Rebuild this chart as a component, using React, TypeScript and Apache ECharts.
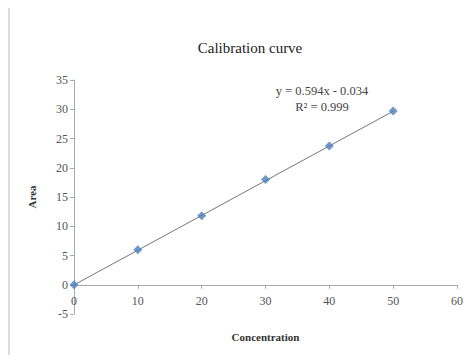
import React, { useEffect, useRef } from "react";
import * as echarts from "echarts";

const concentration = [0, 10, 20, 30, 40, 50];
const area = [0, 6.0, 11.8, 18.0, 23.7, 29.7];
const trendX = [0, 50];
const trendY = [-0.034, 29.666];
const xTicks = { min: 0, max: 60, interval: 10 };
const yTicks = { min: -5, max: 35, interval: 5 };
const titleText = "Calibration curve";
const xName = "Concentration";
const yName = "Area";
const eqLines = ["y = 0.594x - 0.034", "R\u00b2 = 0.999"];

const SERIF = "'Liberation Serif', 'Times New Roman', serif";

export default function App() {
  const ref = useRef<HTMLDivElement>(null);
  useEffect(() => {
    if (!ref.current) return;
    const chart = echarts.init(ref.current, undefined, { renderer: "svg" });
    chart.setOption({
      animation: false,
      backgroundColor: "#ffffff",
      title: {
        text: titleText,
        left: 245,
        top: 35,
        textAlign: "center",
        textStyle: { fontFamily: SERIF, fontSize: 15, fontWeight: "normal", color: "#222" },
      },
      grid: { left: 74, top: 80, right: 8, bottom: 48, containLabel: false },
      xAxis: [
        {
          type: "value",
          min: xTicks.min,
          max: xTicks.max,
          interval: xTicks.interval,
          axisLine: { onZero: true, lineStyle: { color: "#aaa", width: 1 } },
          axisTick: { show: true, inside: false, length: 4, lineStyle: { color: "#aaa" } },
          axisLabel: { show: false },
          splitLine: { show: false },
        },
        {
          type: "value",
          position: "bottom",
          offset: -19,
          min: xTicks.min,
          max: xTicks.max,
          interval: xTicks.interval,
          axisLine: { show: false, onZero: false },
          axisTick: { show: false },
          axisLabel: { fontFamily: SERIF, fontSize: 12, color: "#555", margin: 0 },
          splitLine: { show: false },
          name: xName,
          nameLocation: "middle",
          nameGap: 36,
          nameTextStyle: { fontFamily: SERIF, fontSize: 11, fontWeight: "bold", color: "#333" },
        },
      ],
      yAxis: {
        type: "value",
        min: yTicks.min,
        max: yTicks.max,
        interval: yTicks.interval,
        axisLine: { show: true, lineStyle: { color: "#aaa", width: 1 } },
        axisTick: { show: true, length: 4, lineStyle: { color: "#aaa" } },
        axisLabel: { fontFamily: SERIF, fontSize: 12, color: "#555", margin: 6 },
        splitLine: { show: false },
        name: yName,
        nameLocation: "middle",
        nameGap: 37,
        nameRotate: 90,
        nameTextStyle: { fontFamily: SERIF, fontSize: 11, fontWeight: "bold", color: "#333" },
      },
      graphic: [
        {
          type: "line",
          shape: { x1: 9, y1: 8, x2: 9, y2: 355 },
          style: { stroke: "#bbb", lineWidth: 1 },
        },
        {
          type: "text",
          x: 322,
          y: 83,
          style: {
            text: eqLines.join("\n"),
            fontFamily: SERIF,
            fontSize: 12.5,
            fill: "#444",
            align: "center",
            lineHeight: 16,
          },
        },
      ],
      series: [
        {
          type: "line",
          data: trendX.map((x, i) => [x, trendY[i]]),
          xAxisIndex: 0,
          symbol: "none",
          lineStyle: { color: "#777", width: 1 },
          z: 2,
        },
        {
          type: "scatter",
          data: concentration.map((x, i) => [x, area[i]]),
          xAxisIndex: 0,
          symbol: "diamond",
          symbolSize: 9,
          itemStyle: { color: "#4a7ebb" },
          z: 3,
        },
      ],
    });
    return () => chart.dispose();
  }, []);
  return <div ref={ref} style={{ width: 466, height: 362, position: "absolute", left: 0, top: 0 }} />;
}
